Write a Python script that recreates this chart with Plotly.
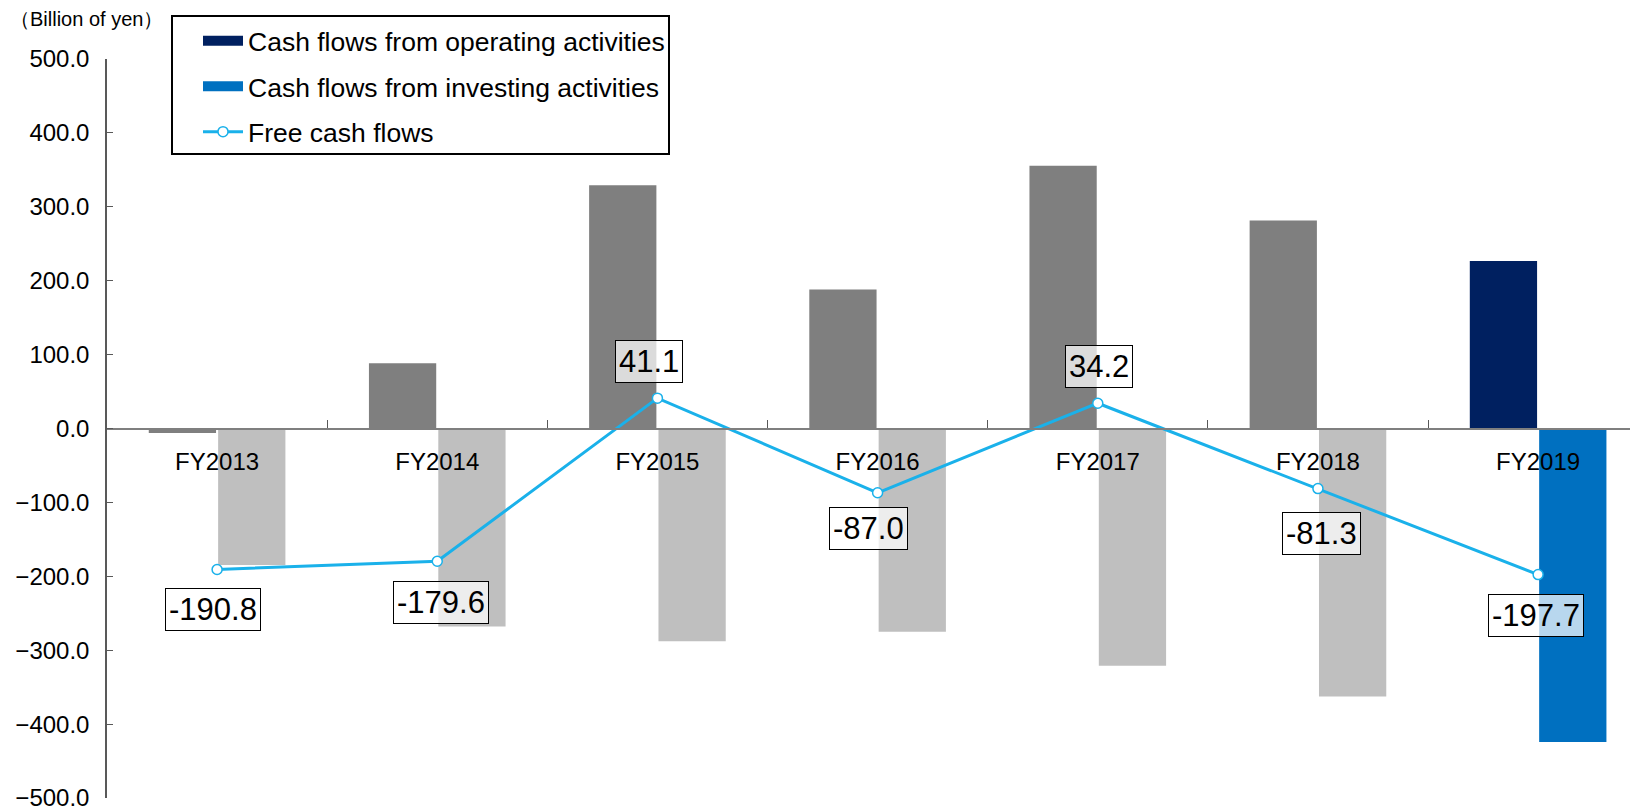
import plotly.graph_objects as go

# ---- data ----
years = ["FY2013", "FY2014", "FY2015", "FY2016", "FY2017", "FY2018", "FY2019"]
operating = [-6.0, 88.4, 329.0, 188.0, 355.4, 281.5, 226.5]
investing = [-184.8, -268.0, -287.9, -275.0, -321.2, -362.8, -424.2]
free_cf = [-190.8, -179.6, 41.1, -87.0, 34.2, -81.3, -197.7]
y_ticks = [-500, -400, -300, -200, -100, 0, 100, 200, 300, 400, 500]

# ---- style ----
FONT = "Arial, Liberation Sans, sans-serif"
op_colors = ["#7f7f7f"] * 6 + ["#002060"]
inv_colors = ["#bfbfbf"] * 6 + ["#0070c0"]
LINE_C = "#1ab1ea"
# label offsets in pixels (dx, dy) relative to each point (dy positive = up)
label_offsets = [(-4, -40), (4, -41), (-8, 37), (-9, -36), (1, 37), (4, -45), (-2, -41)]

W, H = 1638, 809
ML, MR, MT, MB = 99, 0, 51, 19
PW, PH = W - ML - MR, H - MT - MB


def px_x(p):
    return (p - ML) / PW


def px_y(p):
    return 1 + (MT - p) / PH


fig = go.Figure()

fig.add_trace(go.Bar(x=years, y=operating, marker=dict(color=op_colors, line=dict(width=0)),
                     offsetgroup="op", showlegend=False, hoverinfo="skip"))
fig.add_trace(go.Bar(x=years, y=investing, marker=dict(color=inv_colors, line=dict(width=0)),
                     offsetgroup="inv", showlegend=False, hoverinfo="skip"))
# legend-only entries (wide rectangle swatches)
fig.add_trace(go.Scatter(x=[years[0]], y=[None], mode="lines",
                         name="Cash flows from operating activities",
                         line=dict(color="#002060", width=12), legendgroup="a"))
fig.add_trace(go.Scatter(x=[years[0]], y=[None], mode="lines",
                         name="Cash flows from investing activities",
                         line=dict(color="#0070c0", width=12), legendgroup="b"))
fig.add_trace(go.Scatter(x=years, y=free_cf, mode="lines+markers", name="Free cash flows",
                         line=dict(color=LINE_C, width=3),
                         marker=dict(symbol="circle", size=10, color="white",
                                     line=dict(color=LINE_C, width=1.5)),
                         legendgroup="c", hoverinfo="skip"))

for yr, v, (dx, dy) in zip(years, free_cf, label_offsets):
    fig.add_annotation(x=yr, y=v, text=f"{v:.1f}", showarrow=False,
                       xshift=dx, yshift=dy,
                       font=dict(family=FONT, size=31, color="black"),
                       bgcolor="rgba(255,255,255,0.72)", bordercolor="black",
                       borderwidth=1, borderpad=3)

fig.add_annotation(xref="paper", yref="paper", x=px_x(0), y=px_y(11),
                   xanchor="left", yanchor="middle",
                   text="（Billion of yen）", showarrow=False,
                   font=dict(family=FONT, size=20, color="black"))

# legend frame
fig.add_shape(type="rect", xref="paper", yref="paper",
              x0=px_x(164), x1=px_x(661), y0=px_y(146), y1=px_y(8),
              line=dict(color="black", width=2), fillcolor="white", layer="above")

fig.update_layout(
    width=W, height=H,
    margin=dict(l=ML, r=MR, t=MT, b=MB),
    paper_bgcolor="white", plot_bgcolor="white",
    barmode="group", bargap=0.37, bargroupgap=0.03,
    font=dict(family=FONT, color="black"),
    legend=dict(x=px_x(190), y=px_y(9), xanchor="left", yanchor="top",
                bgcolor="rgba(0,0,0,0)", borderwidth=0,
                font=dict(family=FONT, size=26.5, color="black"),
                traceorder="grouped", tracegroupgap=8, itemwidth=40),
    xaxis=dict(type="category", range=[-0.5, 6.49], anchor="free", position=0.5,
               showline=True, linecolor="#7f7f7f", linewidth=1.5,
               ticks="inside", tickson="boundaries", ticklen=8, tickcolor="#595959",
               showgrid=False, zeroline=False, ticklabelstandoff=12,
               tickfont=dict(family=FONT, size=24, color="black")),
    yaxis=dict(range=[-500, 500], tickvals=y_ticks, tickformat=".1f",
               showline=True, linecolor="#595959", linewidth=1.5,
               ticks="inside", ticklen=6, tickcolor="#595959",
               showgrid=False, zeroline=False, ticklabelstandoff=11,
               tickfont=dict(family=FONT, size=24, color="black")),
)

fig.write_html("out.html")
